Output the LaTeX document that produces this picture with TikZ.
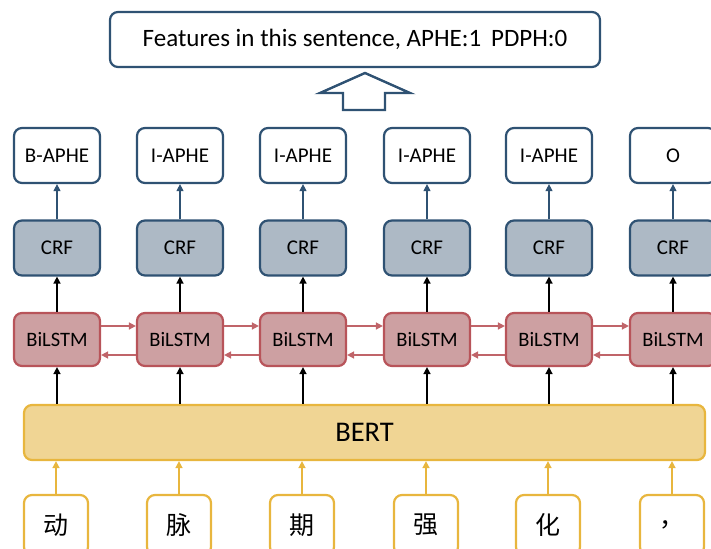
\documentclass[tikz,border=0pt]{standalone}
\usepackage{fontspec}
\setmainfont{Carlito}
\newfontfamily\cjk{Noto Sans CJK SC}
\usepackage{tikz}
\usetikzlibrary{arrows.meta}
\usetikzlibrary{positioning}

\definecolor{tagedge}{RGB}{47,82,115}
\definecolor{crffill}{RGB}{173,185,197}
\definecolor{lstmfill}{RGB}{205,160,162}
\definecolor{lstmedge}{RGB}{184,84,90}
\definecolor{lstmarrow}{RGB}{192,100,105}
\definecolor{bertfill}{RGB}{240,213,148}
\definecolor{bertedge}{RGB}{232,182,62}

\begin{document}
\begin{tikzpicture}[x=1pt,y=-1pt,
  tag/.style={draw=tagedge,line width=2.2pt,rounded corners=8pt,fill=white,
    minimum width=86pt,minimum height=55pt,inner sep=0pt,
    font=\fontsize{21}{24}\selectfont},
  crf/.style={tag,fill=crffill},
  lstm/.style={tag,draw=lstmedge,fill=lstmfill,minimum height=53pt,
    font=\fontsize{20.5}{24}\selectfont},
  word/.style={tag,draw=bertedge,minimum width=64pt,minimum height=60pt,
    font=\cjk\fontsize{25}{28}\selectfont},
  up/.style={-{Triangle[width=7pt,length=7pt]},line width=1.5pt}
]
\useasboundingbox (0,0) rectangle (711,548);

\node[tag,minimum width=490pt,font=\fontsize{25}{28}\selectfont] (feat) at (355,39.5)
  {Features in this sentence, APHE:1\hspace{0.4em}PDPH:0};
\node[tag,draw=bertedge,fill=bertfill,minimum width=681pt,
  font=\fontsize{28.5}{32}\selectfont] (bert) at (364.5,432.5) {BERT};

% block arrow up to the sentence box
\draw[tagedge,line width=2.4pt] (343,110) -- (343,93) -- (320,93) -- (365,73)
  -- (410,93) -- (385,93) -- (385,110) -- cycle;

\foreach \i/\x/\lab/\ch in {1/57/B-APHE/动,2/180/I-APHE/脉,3/303/I-APHE/期,
    4/427/I-APHE/强,5/549/I-APHE/化,6/673/O/，}{
  \node[tag] (t\i) at (\x,155.5) {\lab};
  \node[crf] (c\i) at (\x,248) {CRF};
  \node[lstm] (l\i) at (\x,339.5) {BiLSTM};
  \node[word] (w\i) at (\x-1,525) {\ch};
  \draw[up,bertedge] (w\i.north) -- (w\i.north |- bert.south);
  \draw[up] (bert.north -| l\i) -- (l\i.south);
  \draw[up] (l\i) -- (c\i);
  \draw[up,tagedge,line width=1.1pt] (c\i) -- (t\i);
}

\foreach \i [count=\j from 2] in {1,...,5}{
  \draw[up,lstmarrow] (l\i.east |- 0,326) -- (l\j.west |- 0,326);
  \draw[up,lstmarrow] (l\j.west |- 0,355) -- (l\i.east |- 0,355);
}
\end{tikzpicture}
\end{document}
